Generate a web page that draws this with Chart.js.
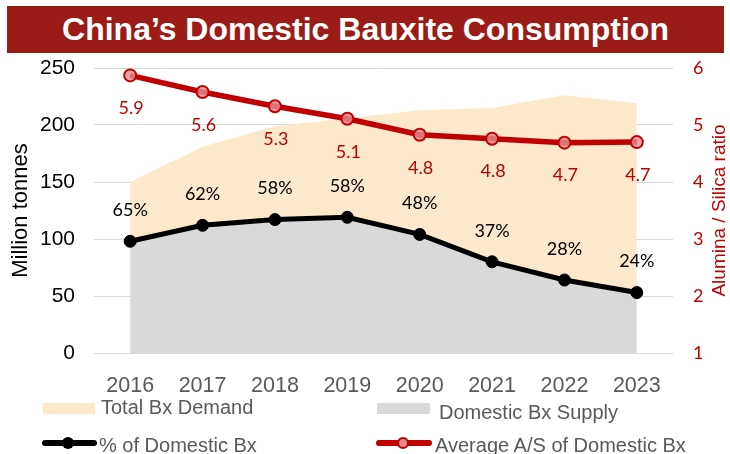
<!DOCTYPE html>
<html>
<head>
<meta charset="utf-8">
<title>China's Domestic Bauxite Consumption</title>
<script src="https://cdn.jsdelivr.net/npm/chart.js@4.4.0/dist/chart.umd.min.js"></script>
<style>
  body { margin: 0; background: #fff; }
  #wrap { position: relative; width: 730px; height: 454px; overflow: hidden; font-family: "Liberation Sans", Arial, sans-serif; }
  #chart { position: absolute; left: 0; top: 0; }
  #banner { position: absolute; left: 7px; top: 6px; width: 717px; height: 47px; background: #9B1C17; color: #fff;
            font-weight: bold; font-size: 32px; line-height: 47px; text-align: center; white-space: nowrap; }
  .lg-text { position: absolute; color: #595959; font-size: 20px; line-height: 24px; white-space: nowrap; }
  .lg-box { position: absolute; height: 11px; }
  .lg-line { position: absolute; height: 6px; border-radius: 3px; }
  .lg-dot { position: absolute; width: 12px; height: 12px; border-radius: 50%; box-sizing: border-box; }
</style>
</head>
<body>
<div id="wrap">
  <canvas id="chart" width="730" height="454"></canvas>
  <div id="banner">China’s Domestic Bauxite Consumption</div>

  <!-- legend -->
  <div class="lg-box" style="left:43px; top:403px; width:52px; background:#FCE9CC;"></div>
  <div class="lg-text" style="left:101px; top:395px;">Total Bx Demand</div>
  <div class="lg-box" style="left:377px; top:403px; width:53px; background:#D9D9D9;"></div>
  <div class="lg-text" style="left:439px; top:400px;">Domestic Bx Supply</div>

  <div class="lg-line" style="left:42px; top:440px; width:55px; background:#000;"></div>
  <div class="lg-dot" style="left:62px; top:437px; background:#000;"></div>
  <div class="lg-text" style="left:99px; top:433px;">% of Domestic Bx</div>
  <div class="lg-line" style="left:376px; top:440px; width:56px; background:#C00000;"></div>
  <div class="lg-dot" style="left:397px; top:437px; background:#E08A8A; border:2px solid #C00000;"></div>
  <div class="lg-text" style="left:435px; top:433px;">Average A/S of Domestic Bx</div>
</div>

<script>
// Chart data
const years = ['2016', '2017', '2018', '2019', '2020', '2021', '2022', '2023'];
const totalDemand = [150, 181, 199, 206, 213, 215, 226, 219];      // Million tonnes
const domesticSupply = [98, 112, 117, 119, 104, 80, 64, 53];      // Million tonnes
const domesticShare = [65, 62, 58, 58, 48, 37, 28, 24];           // % of Domestic Bx
const avgAluminaSilica = [5.87, 5.58, 5.33, 5.11, 4.83, 4.76, 4.69, 4.70];

const leftTicks = { min: 0, max: 250, step: 50 };
const rightTicks = { min: 1, max: 6, step: 1 };

const ARIAL = '"Liberation Sans", Arial, sans-serif';
const CALIBRI = 'Lato, "Noto Sans", sans-serif';
const RED = '#C00000';

// Draws the data labels and the right axis title
const labelPlugin = {
  id: 'labels',
  afterDatasetsDraw(chart) {
    const ctx = chart.ctx;
    ctx.save();
    ctx.font = '18px ' + CALIBRI;
    ctx.textAlign = 'center';
    ctx.textBaseline = 'middle';

    const shareMeta = chart.getDatasetMeta(2);
    ctx.fillStyle = '#000';
    shareMeta.data.forEach((pt, i) => {
      ctx.fillText(domesticShare[i] + '%', pt.x, pt.y - 31);
    });

    const asMeta = chart.getDatasetMeta(3);
    ctx.fillStyle = RED;
    asMeta.data.forEach((pt, i) => {
      ctx.fillText(avgAluminaSilica[i].toFixed(1), pt.x + 1, pt.y + 33);
    });
    ctx.restore();
  },
  afterDraw(chart) {
    const ctx = chart.ctx;
    const area = chart.chartArea;
    ctx.save();
    ctx.translate(720, (area.top + area.bottom) / 2);
    ctx.rotate(-Math.PI / 2);
    ctx.font = '19px ' + ARIAL;
    ctx.fillStyle = RED;
    ctx.textAlign = 'center';
    ctx.textBaseline = 'middle';
    ctx.fillText('Alumina / Silica ratio', 0, 0);
    ctx.restore();
  }
};

const ctx = document.getElementById('chart').getContext('2d');
new Chart(ctx, {
  type: 'line',
  data: {
    labels: years,
    datasets: [
      {
        label: 'Total Bx Demand',
        data: totalDemand,
        yAxisID: 'y',
        fill: 'origin',
        backgroundColor: '#FCE9CC',
        borderWidth: 0,
        pointRadius: 0,
        order: 4
      },
      {
        label: 'Domestic Bx Supply',
        data: domesticSupply,
        yAxisID: 'y',
        fill: 'origin',
        backgroundColor: '#D9D9D9',
        borderWidth: 0,
        pointRadius: 0,
        order: 3
      },
      {
        label: '% of Domestic Bx',
        data: domesticSupply,
        yAxisID: 'y',
        fill: false,
        borderColor: '#000',
        borderWidth: 5,
        pointRadius: 6,
        pointBackgroundColor: '#000',
        pointBorderColor: '#000',
        pointBorderWidth: 1,
        order: 2
      },
      {
        label: 'Average A/S of Domestic Bx',
        data: avgAluminaSilica,
        yAxisID: 'y1',
        fill: false,
        borderColor: RED,
        borderWidth: 5.5,
        pointRadius: 6,
        pointBackgroundColor: 'rgba(228, 140, 140, 0.8)',
        pointBorderColor: RED,
        pointBorderWidth: 2,
        order: 1
      }
    ]
  },
  options: {
    responsive: false,
    animation: false,
    devicePixelRatio: 1,
    layout: { padding: { top: 68, left: 0, right: 0, bottom: 0 } },
    plugins: {
      legend: { display: false },
      tooltip: { enabled: false }
    },
    elements: { line: { tension: 0 } },
    scales: {
      x: {
        offset: true,
        grid: { display: false },
        border: { display: false },
        ticks: { color: '#595959', font: { family: ARIAL, size: 21.5 }, padding: 12, maxRotation: 0 },
        afterFit: scale => { scale.height = 101; }
      },
      y: {
        position: 'left',
        min: leftTicks.min,
        max: leftTicks.max,
        grid: { color: '#D9D9D9', lineWidth: 1, drawTicks: false },
        border: { display: false },
        ticks: { stepSize: leftTicks.step, color: '#000', font: { family: ARIAL, size: 21 }, padding: 19 },
        title: { display: true, text: 'Million tonnes', color: '#000', font: { family: ARIAL, size: 22 }, padding: { top: 8, bottom: 0 } },
        afterFit: scale => { scale.width = 94; }
      },
      y1: {
        position: 'right',
        min: rightTicks.min,
        max: rightTicks.max,
        grid: { display: false, drawTicks: false },
        border: { display: false },
        ticks: { stepSize: rightTicks.step, color: RED, font: { family: CALIBRI, size: 18 }, padding: 20 },
        afterFit: scale => { scale.width = 57; }
      }
    }
  },
  plugins: [labelPlugin]
});
</script>
</body>
</html>
